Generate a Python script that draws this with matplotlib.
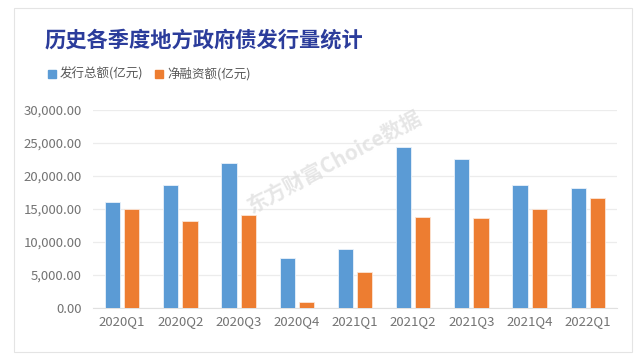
import matplotlib
matplotlib.use('Agg')
import matplotlib.pyplot as plt
from matplotlib.patches import Rectangle
from matplotlib.ticker import FuncFormatter
import numpy as np

plt.rcParams['font.family'] = ['Noto Sans CJK SC', 'DejaVu Sans']

quarters = ['2020Q1', '2020Q2', '2020Q3', '2020Q4', '2021Q1',
            '2021Q2', '2021Q3', '2021Q4', '2022Q1']
total_issue = [16060, 18680, 21900, 7620, 8990, 24390, 22620, 18580, 18180]
net_financing = [15040, 13230, 14140, 900, 5450, 13790, 13640, 15050, 16600]

fig = plt.figure(figsize=(6.4, 3.59), dpi=100)
fig.patch.set_facecolor('white')

# card border
fig.patches.append(Rectangle((14/640, 1-352/359), 618/640, 344/359,
                             transform=fig.transFigure, fill=False,
                             edgecolor='#e4e4e4', linewidth=0.8))

ax = fig.add_axes([93/640, 1-308/359, 524/640, 198/359])
x = np.arange(len(quarters))
w = 0.26
ax.bar(x - 0.165, total_issue, w, color='#5b9bd5', edgecolor='#eaf2fa', linewidth=0.6, zorder=3)
ax.bar(x + 0.165, net_financing, w, color='#ed7d31', edgecolor='#fbe5d6', linewidth=0.6, zorder=3)

ax.set_xlim(-0.5, len(quarters) - 0.5)
ax.set_ylim(0, 30000)
ax.set_yticks(range(0, 30001, 5000))
ax.yaxis.set_major_formatter(FuncFormatter(lambda v, p: f'{v:,.2f}'))
ax.set_xticks(x)
ax.set_xticklabels(quarters)
ax.grid(axis='y', color='#ececec', linewidth=0.9, zorder=0)
for s in ['top', 'right', 'left']:
    ax.spines[s].set_visible(False)
ax.spines['bottom'].set_color('#e0e0e0')
ax.tick_params(axis='both', length=0, colors='#737373', labelsize=9.5)
ax.tick_params(axis='y', pad=8)
ax.tick_params(axis='x', pad=5)

fig.text(45/640, 1-40/359, '历史各季度地方政府债发行量统计', fontsize=15.3,
         fontweight='bold', color='#2b3c9b', va='center')

# legend
fig.patches.append(Rectangle((48/640, 1-78/359), 8/640, 8/359, transform=fig.transFigure,
                             color='#5b9bd5'))
fig.text(60/640, 1-73.5/359, '发行总额(亿元)', fontsize=9, color='#595959', va='center')
fig.patches.append(Rectangle((155/640, 1-78/359), 8/640, 8/359, transform=fig.transFigure,
                             color='#ed7d31'))
fig.text(167/640, 1-73.5/359, '净融资额(亿元)', fontsize=9, color='#595959', va='center')

# watermark
fig.text(335/640, 1-162/359, '东方财富Choice数据', fontsize=15, color='#dcdcdc',
         rotation=28, ha='center', va='center', fontweight='bold', style='italic', alpha=0.7)

fig.savefig('out.png', dpi=100)
